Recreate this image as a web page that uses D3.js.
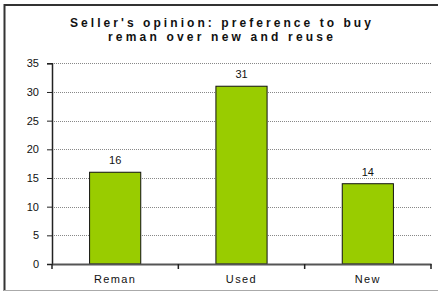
<!DOCTYPE html>
<html><head><meta charset="utf-8">
<script src="https://cdn.jsdelivr.net/npm/d3@7"></script>
<style>body{margin:0;background:#fff}svg{display:block;font-family:Arial,"Liberation Sans",sans-serif}</style>
</head><body><svg id="c" width="438" height="291"></svg>
<script>
const categories = ["Reman", "Used", "New"];
const values = [16, 31, 14];
const yTicks = [0, 5, 10, 15, 20, 25, 30, 35];
const titleLines = ["Seller's opinion: preference to buy", "reman over new and reuse"];

const svg = d3.select("#c");
const pLeft = 52, pRight = 431, pTop = 63.3, pBottom = 264;

// frame
svg.append("line").attr("x1",4.5).attr("x2",4.5).attr("y1",4).attr("y2",291).attr("stroke","#333").attr("stroke-width",2);
svg.append("line").attr("x1",4).attr("x2",438).attr("y1",5).attr("y2",5).attr("stroke","#333").attr("stroke-width",2);
svg.append("line").attr("x1",4).attr("x2",438).attr("y1",290.5).attr("y2",290.5).attr("stroke","#aaa").attr("stroke-width",1);

const x = d3.scaleBand().domain(categories).range([pLeft, pRight]).padding(0);
const y = d3.scaleLinear().domain([0, 35]).range([pBottom, pTop]);

// grid
svg.append("g").selectAll("line").data(yTicks.filter(d => d > 0)).join("line")
  .attr("x1", pLeft).attr("x2", pRight)
  .attr("y1", d => Math.round(y(d)) + 0.5).attr("y2", d => Math.round(y(d)) + 0.5)
  .attr("stroke", "#888").attr("stroke-width", 1).attr("stroke-dasharray", "1,1");

// y axis
const yAxis = svg.append("g").attr("transform", `translate(${pLeft},0)`)
  .call(d3.axisLeft(y).tickValues(yTicks).tickSize(5).tickPadding(8));
yAxis.select(".domain").attr("stroke", "#222").attr("stroke-width", 1.5);
yAxis.selectAll(".tick line").attr("stroke", "#222");
yAxis.selectAll("text").attr("font-size", 11).attr("fill", "#111").attr("font-family", "Arial");

// bars
const bw = x.step() * 0.405;
svg.append("g").selectAll("rect").data(values).join("rect")
  .attr("x", (d, i) => x(categories[i]) + x.bandwidth() / 2 - bw / 2)
  .attr("width", bw)
  .attr("y", d => y(d))
  .attr("height", d => y(0) - y(d))
  .attr("fill", "#99cc00").attr("stroke", "#111").attr("stroke-width", 1);

// value labels
svg.append("g").selectAll("text").data(values).join("text")
  .attr("x", (d, i) => x(categories[i]) + x.bandwidth() / 2)
  .attr("y", d => y(d) - 8)
  .attr("text-anchor", "middle").attr("font-size", 11).attr("fill", "#111")
  .text(d => d);

// x axis
const xAxis = svg.append("g").attr("transform", `translate(0,${pBottom})`)
  .call(d3.axisBottom(x).tickSize(0).tickPadding(11));
xAxis.select(".domain").attr("stroke", "#555").attr("stroke-width", 2);
xAxis.selectAll("text").attr("font-size", 11).attr("fill", "#111").attr("font-family", "Arial")
  .attr("letter-spacing", "1.4px");
// category boundary ticks
const bounds = [pLeft, ...categories.map(c => x(c) + x.step())];
svg.append("g").selectAll("line").data(bounds).join("line")
  .attr("x1", d => d).attr("x2", d => d).attr("y1", pBottom).attr("y2", pBottom + 5)
  .attr("stroke", "#222").attr("stroke-width", 1.5);

// title
const tw = [301, 225];
const title = svg.append("g");
titleLines.forEach((t, i) => {
  const el = title.append("text").attr("x", 222).attr("y", 27 + i * 14)
    .attr("text-anchor", "middle").attr("font-size", 12).attr("font-weight", "bold")
    .attr("fill", "#111").text(t);
  const w = el.node().getComputedTextLength();
  el.attr("letter-spacing", ((tw[i] - w) / (t.length - 1)).toFixed(2) + "px");
});
</script></body></html>
